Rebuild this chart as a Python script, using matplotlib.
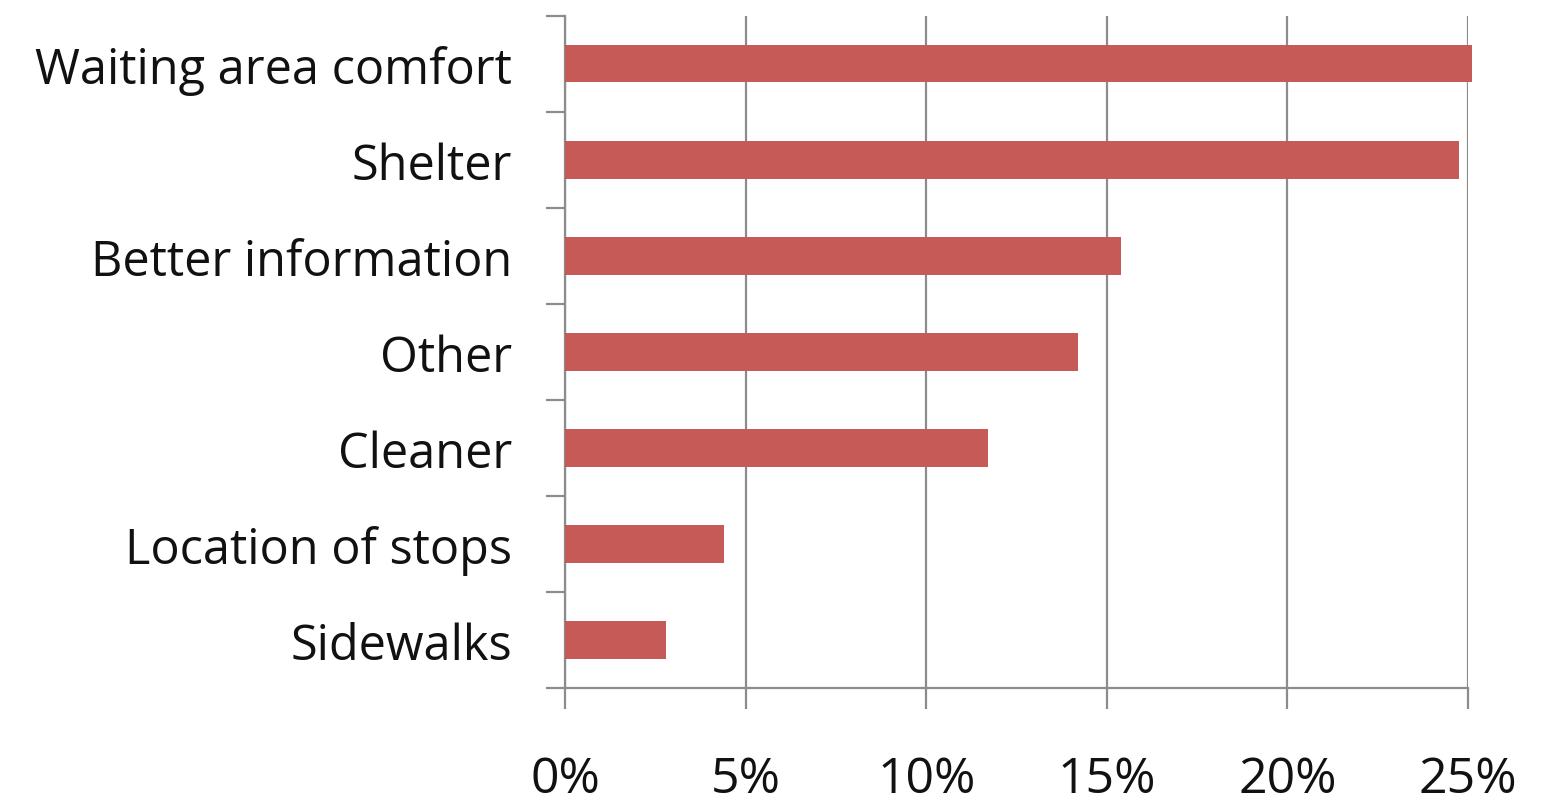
import numpy as np
import matplotlib
matplotlib.use("Agg")
import matplotlib.pyplot as plt
from matplotlib.ticker import FixedLocator, PercentFormatter

# data (percent of responses)
categories = ["Waiting area comfort", "Shelter", "Better information", "Other",
              "Cleaner", "Location of stops", "Sidewalks"]
values = [25.1, 24.75, 15.4, 14.2, 11.7, 4.4, 2.8]
x_ticks = [0, 5, 10, 15, 20, 25]

plt.rcParams["font.family"] = ["Open Sans", "DejaVu Sans"]

fig = plt.figure(figsize=(15.54, 8.04), dpi=100)
ax = fig.add_axes([0.3636, 0.143, 0.5811, 0.8362])

y = np.arange(len(categories))[::-1]
ax.barh(y, values, height=0.39, color="#C55A57", zorder=3, clip_on=False)

ax.set_xlim(0, 25)
ax.set_ylim(-0.5, len(categories) - 0.5)
ax.xaxis.set_major_locator(FixedLocator(x_ticks))
ax.xaxis.set_major_formatter(PercentFormatter(decimals=0))
ax.grid(axis="x", color="#8C8C8C", linewidth=1.6, zorder=1)

ax.set_yticks(y)
ax.set_yticklabels(categories)
ax.yaxis.set_minor_locator(FixedLocator(np.arange(-0.5, len(categories), 1.0)))

for side in ["top", "right"]:
    ax.spines[side].set_visible(False)
for side in ["left", "bottom"]:
    ax.spines[side].set_color("#8C8C8C")
    ax.spines[side].set_linewidth(1.6)

ax.tick_params(axis="y", which="major", length=0, pad=38, labelsize=35, labelcolor="#111111")
ax.tick_params(axis="y", which="minor", length=14, width=1.6, color="#8C8C8C")
ax.tick_params(axis="x", which="major", length=15, width=1.6, color="#8C8C8C",
               pad=33, labelsize=36, labelcolor="#111111")

fig.savefig("out.png", dpi=100, facecolor="white")
